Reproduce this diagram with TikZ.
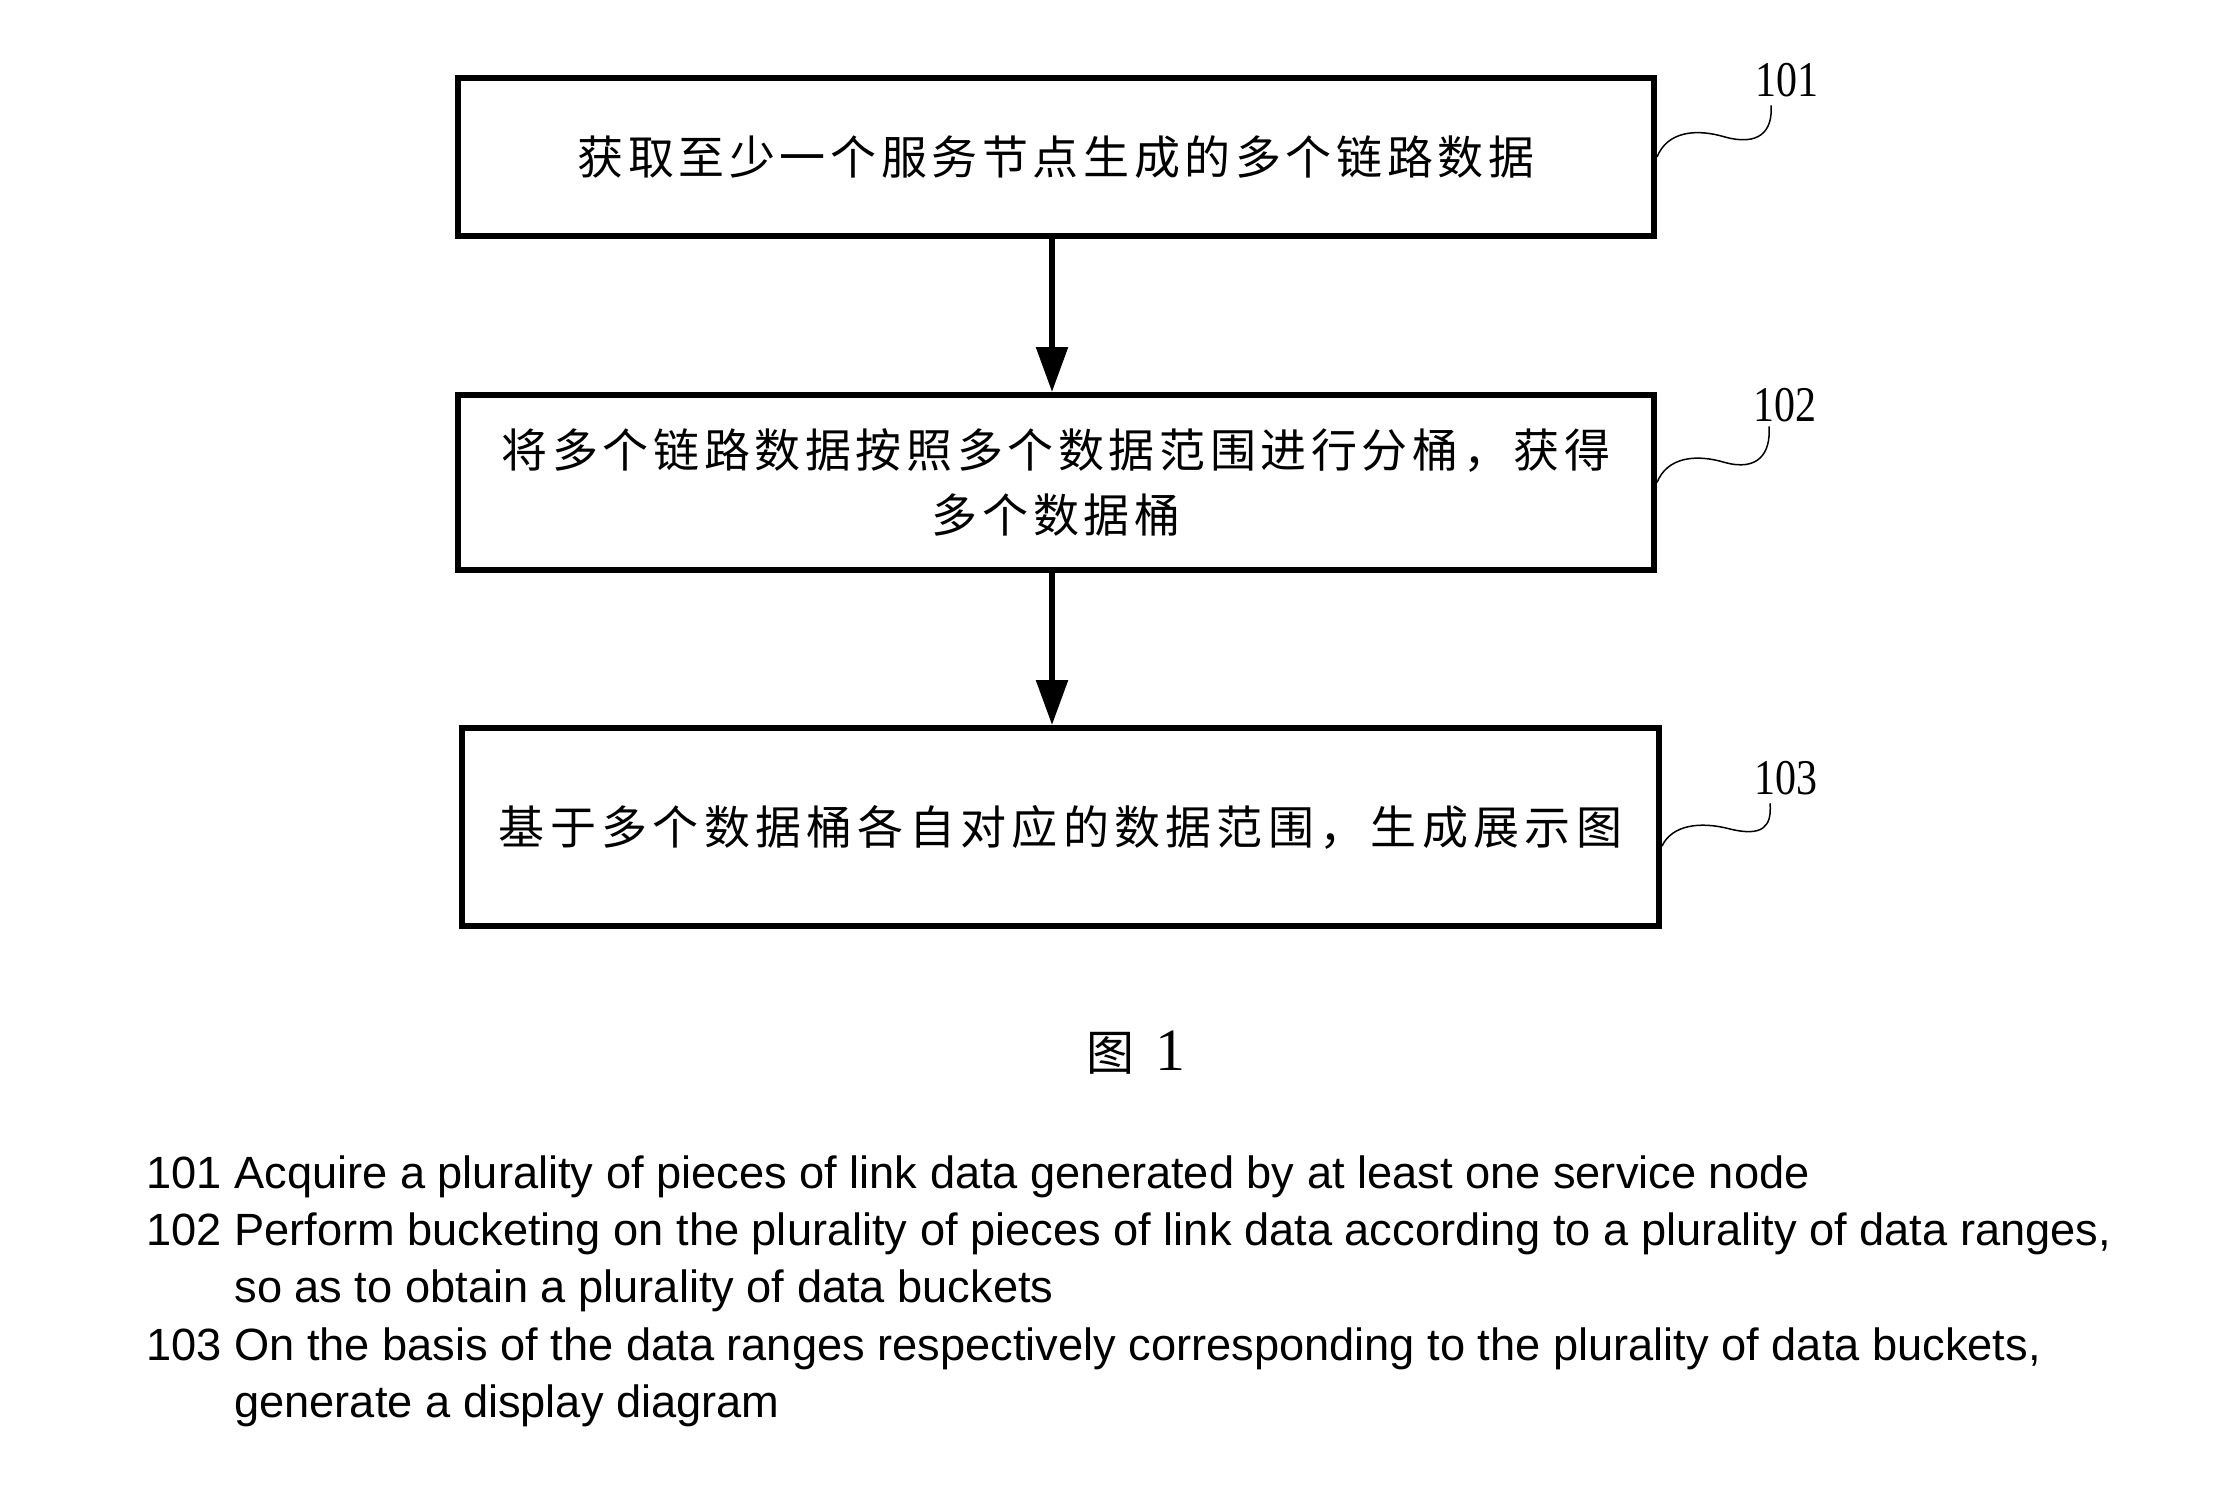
\documentclass[tikz,border=0pt]{standalone}
\usepackage{fontspec}
\setmainfont{Liberation Serif}
\newfontfamily\cjka[LetterSpace=10]{Noto Sans CJK SC}
\newfontfamily\cjkb[LetterSpace=11.5]{Noto Sans CJK SC}
\newfontfamily\cjkc{Noto Sans CJK SC}
\newfontfamily\lblfont[FakeStretch=0.84]{Liberation Serif}
\newfontfamily\arialfont{Liberation Sans}
\usetikzlibrary{arrows.meta,calc}
\begin{document}
\begin{tikzpicture}[x=0.5pt,y=-0.5pt,
  box/.style={draw, line width=3pt, inner sep=0pt, align=center,
    font=\cjka\fontsize{23pt}{32.5pt}\selectfont},
  arr/.style={line width=2.8pt, -{Triangle[length=22.5pt,width=15.5pt]}},
  leader/.style={line width=0.75pt},
  lbl/.style={inner sep=0pt, font=\lblfont\fontsize{25pt}{25pt}\selectfont},
  desc/.style={anchor=base west, inner sep=0pt,
    font=\arialfont\fontsize{22.6pt}{27pt}\selectfont}]
\fill[white] (0,0) rectangle (2221,1485);
\useasboundingbox (0,0) rectangle (2221,1485);

% boxes
\node[box, minimum width=598pt, minimum height=79pt] (b1) at (1056,157)
  {获取至少一个服务节点生成的多个链路数据};
\node[box, minimum width=598pt, minimum height=87.5pt] (b2) at (1056,482.5)
  {将多个链路数据按照多个数据范围进行分桶，获得\\多个数据桶};
\node[box, font=\cjkb\fontsize{23pt}{32.5pt}\selectfont,
  minimum width=598.5pt, minimum height=99pt] (b3) at (1060.5,827)
  {基于多个数据桶各自对应的数据范围，生成展示图};

% arrows
\coordinate (ax) at (1052,0);
\draw[arr] (b1.south -| ax) -- (b2.north -| ax);
\draw[arr] (b2.south -| ax) -- (b3.north -| ax);

% labels
\node[lbl] (l1) at (1787,80) {101};
\node[lbl] (l2) at (1785,405) {102};
\node[lbl] (l3) at (1786,778) {103};

% leader squiggles
\coordinate (s1) at (b1.east);
\coordinate (e1) at ([shift={(-8pt,-4pt)}]l1.south);
\draw[leader] (s1) .. controls ($(s1)+(10,-25)$) and ($(s1)+(38,-29)$) .. ($(s1)+(68,-20)$)
  .. controls ($(s1)+(101,-11)$) and ($(e1)+(2,27)$) .. (e1);
\coordinate (s2) at (b2.east);
\coordinate (e2) at ([shift={(-8pt,-2pt)}]l2.south);
\draw[leader] (s2) .. controls ($(s2)+(10,-25)$) and ($(s2)+(38,-29)$) .. ($(s2)+(68,-20)$)
  .. controls ($(s2)+(101,-11)$) and ($(e2)+(2,27)$) .. (e2);
\coordinate (s3) at ([yshift=-9.5pt]b3.east);
\coordinate (e3) at ([shift={(-8pt,-4pt)}]l3.south);
\draw[leader] (s3) .. controls ($(s3)+(10,-21)$) and ($(s3)+(38,-25)$) .. ($(s3)+(68,-17)$)
  .. controls ($(s3)+(101,-9)$) and ($(e3)+(2,23)$) .. (e3);

% caption
\node[inner sep=0pt, anchor=base] (cap) at (1136,1070)
  {{\cjkc\fontsize{24pt}{24pt}\selectfont 图}\hspace{10.5pt}{\fontsize{30pt}{30pt}\selectfont 1}};

% description
\node[desc] (t1) at (146,1188) {101 Acquire a plurality of pieces of link data generated by at least one service node};
\node[desc] (t2) at (146,1245.3) {102 Perform bucketing on the plurality of pieces of link data according to a plurality of data ranges,};
\node[desc] (t3) at (234,1302.6) {so as to obtain a plurality of data buckets};
\node[desc] (t4) at (146,1360) {103 On the basis of the data ranges respectively corresponding to the plurality of data buckets,};
\node[desc] (t5) at (234,1417.2) {generate a display diagram};
\end{tikzpicture}
\end{document}
